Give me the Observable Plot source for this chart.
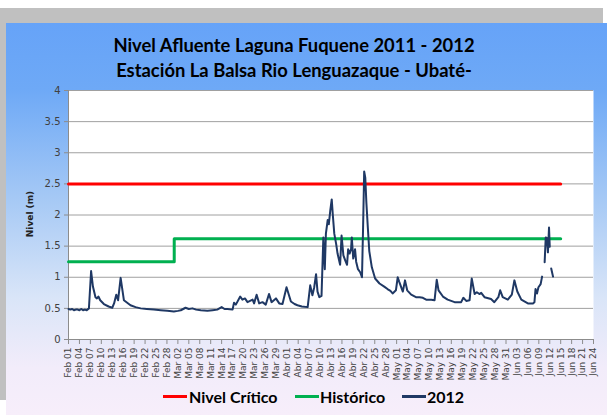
<!DOCTYPE html>
<html>
<head>
<meta charset="utf-8">
<script src="https://cdn.jsdelivr.net/npm/d3@7"></script>
<script src="https://cdn.jsdelivr.net/npm/@observablehq/plot@0.6"></script>
<style>
html, body { margin: 0; padding: 0; background: #ffffff; }
#page { position: relative; width: 607px; height: 415px; overflow: hidden; }
#gris { position: absolute; left: 0; top: 8px; width: 603px; height: 392px; background: #c0c0c0; }
#fondo { position: absolute; left: 6px; top: 23px; width: 601px; height: 392px;
  background: linear-gradient(to bottom, #66a3f8 0%, #6ea9f6 17%, #a6c9f5 45%, #d9e5f8 70%, #f2ecfa 88%, #f7eefa 100%); }
#chart { position: absolute; left: 0; top: 0; }
.titulo { position: absolute; left: 0; width: 588px; text-align: center; font-family: Lato, "Open Sans", sans-serif;
  font-weight: bold; font-size: 18.4px; color: #000; white-space: nowrap; line-height: 1; }
#ylab { position: absolute; left: 30px; top: 214px; transform: translate(-50%, -50%) rotate(-90deg);
  font-family: "DejaVu Sans", sans-serif; font-weight: bold; font-size: 9px; color: #222; white-space: nowrap; }
.leg-line { position: absolute; height: 3px; }
.leg-text { position: absolute; font-family: Lato, "Open Sans", sans-serif; font-weight: bold; font-size: 16px; color: #000;
  white-space: nowrap; line-height: 1; }
</style>
</head>
<body>
<div id="page">
  <div id="gris"></div>
  <div id="fondo"></div>
  <div id="chart"></div>
  <div class="titulo" id="t1" style="top:36px">Nivel Afluente Laguna Fuquene 2011 - 2012</div>
  <div class="titulo" id="t2" style="top:61px">Estación La Balsa Rio Lenguazaque - Ubaté-</div>
  <div id="ylab">Nivel (m)</div>
  <div class="leg-line" style="left:163px;top:395px;width:24px;background:#ff0000"></div>
  <div class="leg-text" style="left:189px;top:389px">Nivel Crítico</div>
  <div class="leg-line" style="left:295px;top:395px;width:24px;background:#00b050"></div>
  <div class="leg-text" style="left:320px;top:389px">Histórico</div>
  <div class="leg-line" style="left:402px;top:395px;width:24px;background:#1f3864"></div>
  <div class="leg-text" style="left:427px;top:389px">2012</div>
</div>
<script>
// Días desde el 01 de febrero de 2012 (lecturas varias por día)
const dias2012 = [0, 0.5, 1, 1.5, 2, 2.5, 3, 3.5, 4, 4.5, 5, 5.6, 6.2, 6.7, 7.4, 7.8, 8.2, 8.7, 9.7, 11.0,
  12.0, 12.5, 13.1, 13.6, 14.3, 15.2, 17.0, 18.4, 19.8, 21.5, 23.4, 25.3, 27.1, 28.9, 30.0, 30.8, 32.1, 33.0, 34.0, 35.0,
  36.3, 38.1, 39.5, 40.8, 42.0, 42.8, 43.6, 45.0, 45.4, 45.9, 47.1, 47.7, 48.4, 49.1, 50.5, 50.9, 51.6, 52.3, 53.2, 54.1,
  55.0, 55.7, 56.9, 57.8, 58.7, 59.8, 61.0, 62.0, 62.8, 64.0, 65.6, 66.3, 66.9, 67.4, 67.9, 68.3, 68.8, 69.4, 69.9, 70.3,
  70.6, 71.1, 71.4, 71.8, 72.2, 72.5, 72.9, 73.4, 73.8, 74.5, 74.9, 75.4, 75.9, 76.4, 76.7, 77.1, 77.5, 77.7, 78.1, 78.6,
  78.9, 79.4, 80.0, 80.5, 80.8, 81.1, 81.4, 81.7, 82.1, 82.5, 83.2, 84.1, 85.3, 86.6, 87.5, 88.3, 88.9, 89.8, 90.3, 90.7,
  91.7, 92.3, 92.9, 94.0, 95.3, 96.3, 97.2, 98.1, 99.5, 100.4, 101.0, 101.5, 102.7, 104.0, 105.9, 107.7, 108.3, 109.1, 110.0, 110.6,
  111.4, 112.0, 112.7, 113.2, 114.1, 115.9, 116.8, 117.9, 118.4, 119.1, 120.5, 121.6, 122.3, 123.1, 124.2, 126.0, 127.4, 127.8, 128.1, 128.5,
  128.9, 129.5, 129.9, 130.2, 130.6, 130.9, 131.2, 131.5, 131.8, 132.0, 132.2, 132.4, 132.9];
const nivel2012 = [0.49, 0.48, 0.49, 0.47, 0.48, 0.48, 0.47, 0.49, 0.47, 0.48, 0.47, 0.50, 1.10, 0.85, 0.68, 0.66, 0.69, 0.63, 0.57, 0.53,
  0.51, 0.58, 0.72, 0.63, 0.99, 0.63, 0.55, 0.52, 0.50, 0.49, 0.48, 0.47, 0.46, 0.45, 0.46, 0.47, 0.51, 0.49, 0.50, 0.48,
  0.47, 0.46, 0.47, 0.48, 0.52, 0.49, 0.49, 0.48, 0.59, 0.56, 0.69, 0.64, 0.66, 0.60, 0.64, 0.58, 0.72, 0.58, 0.60, 0.56,
  0.73, 0.60, 0.66, 0.58, 0.57, 0.84, 0.61, 0.57, 0.55, 0.53, 0.52, 0.87, 0.71, 0.84, 1.05, 0.77, 0.68, 0.70, 1.64, 1.13,
  1.70, 1.92, 1.85, 2.07, 2.25, 2.00, 1.70, 1.54, 1.38, 1.20, 1.67, 1.35, 1.27, 1.20, 1.45, 1.38, 1.45, 1.64, 1.30, 1.45,
  1.25, 1.13, 1.08, 1.00, 1.80, 2.70, 2.60, 2.20, 1.80, 1.42, 1.16, 0.98, 0.90, 0.85, 0.81, 0.78, 0.74, 0.79, 1.00, 0.93,
  0.77, 0.95, 0.79, 0.72, 0.68, 0.68, 0.67, 0.64, 0.64, 0.63, 0.96, 0.79, 0.69, 0.64, 0.60, 0.60, 0.67, 0.62, 0.63, 0.98,
  0.73, 0.76, 0.73, 0.75, 0.68, 0.65, 0.60, 0.68, 0.79, 0.68, 0.64, 0.72, 0.95, 0.77, 0.64, 0.58, 0.58, 0.60, 0.81, 0.74,
  0.84, 0.89, 1.01, null, 1.24, 1.64, 1.63, 1.40, 1.80, 1.49, null, 1.14, 1.01];

const diasCritico = [0, 135];
const nivelCritico = [2.5, 2.5];
const diasHistorico = [0, 29, 29, 135];
const nivelHistorico = [1.25, 1.25, 1.62, 1.62];

const ticksY = [0, 0.5, 1, 1.5, 2, 2.5, 3, 3.5, 4];
const ticksDias = d3.range(0, 145, 3);
const meses = ["Ene", "Feb", "Mar", "Abr", "May", "Jun"];

const inicio = Date.UTC(2012, 1, 1);
const fecha = d => new Date(inicio + d * 864e5);
const serie = (dias, niveles) => dias.map((d, i) => ({fecha: fecha(d), nivel: niveles[i]}));

const datos2012 = serie(dias2012, nivel2012);
const datosCritico = serie(diasCritico, nivelCritico);
const datosHistorico = serie(diasHistorico, nivelHistorico);

const chart = Plot.plot({
  width: 607,
  height: 415,
  marginTop: 90,
  marginLeft: 68,
  marginRight: 14,
  marginBottom: 76,
  style: {background: "transparent", overflow: "visible"},
  x: {type: "utc", domain: [fecha(0), fecha(144)]},
  y: {domain: [0, 4]},
  marks: [
    Plot.frame({fill: "white", stroke: null}),
    Plot.gridY(ticksY.filter(d => d > 0), {stroke: "#a0a0a0", strokeOpacity: 1, strokeWidth: 1}),
    Plot.ruleY([0], {stroke: "#8c8c8c"}),
    Plot.ruleX([fecha(0)], {stroke: "#8c8c8c"}),
    Plot.axisY({ticks: ticksY, tickSize: 4, tickPadding: 4, fontSize: 10, fontFamily: "DejaVu Sans", label: null,
      tickFormat: d => String(d), stroke: "#8c8c8c", color: "#404040"}),
    Plot.axisX({ticks: ticksDias.map(fecha), tickSize: 5, tickPadding: 3, tickRotate: -90, fontSize: 9,
      fontFamily: "DejaVu Sans", label: null, stroke: "#8c8c8c", color: "#404040",
      tickFormat: d => meses[d.getUTCMonth()] + " " + String(d.getUTCDate()).padStart(2, "0")}),
    Plot.line(datosCritico, {x: "fecha", y: "nivel", stroke: "#ff0000", strokeWidth: 3}),
    Plot.line(datosHistorico, {x: "fecha", y: "nivel", stroke: "#00b050", strokeWidth: 3}),
    Plot.line(datos2012, {x: "fecha", y: "nivel", stroke: "#1f3864", strokeWidth: 2, curve: "linear"})
  ]
});
document.getElementById("chart").appendChild(chart);
</script>
</body>
</html>
